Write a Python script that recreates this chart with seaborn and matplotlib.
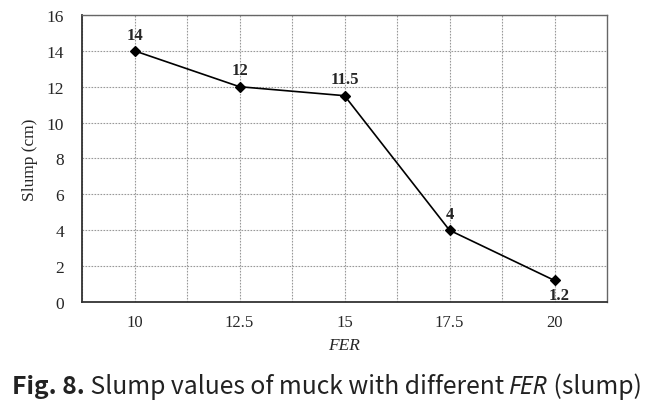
import matplotlib
matplotlib.use('Agg')
import matplotlib.pyplot as plt
import numpy as np
import pandas as pd
import seaborn as sns

fer = ['10', '12.5', '15', '17.5', '20']
slump = [14, 12, 11.5, 4, 1.2]
point_labels = ['14', '12', '11.5', '4', '1.2']
y_ticks = [0, 2, 4, 6, 8, 10, 12, 14, 16]

sns.set_theme(style='white')
plt.rcParams['font.family'] = ['Liberation Serif', 'DejaVu Serif']

df = pd.DataFrame({'FER': fer, 'Slump': slump})

fig = plt.figure(figsize=(6.53, 4.06), dpi=100)
ax = fig.add_axes([0.1256, 0.2537, 0.804, 0.707])

sns.pointplot(data=df, x='FER', y='Slump', color='black', markers='D',
              linewidth=1.2, markersize=5.5, ax=ax)

ax.set_xlim(-0.5, len(fer) - 0.5)
ax.set_ylim(0, 16)
ax.set_yticks(y_ticks)
ax.set_yticklabels([str(t) for t in y_ticks], fontsize=12.5)
ax.set_xticks(range(len(fer)))
ax.set_xticklabels(fer, fontsize=12)
ax.set_xticks(np.arange(len(fer)) - 0.5, minor=True)
ax.tick_params(axis='y', length=0, pad=13)
ax.tick_params(axis='x', length=0, pad=9)

grid_kw = dict(color='#999999', linestyle=(0, (1.5, 1.2)), linewidth=0.8)
ax.grid(True, which='major', axis='both', **grid_kw)
ax.grid(True, which='minor', axis='x', **grid_kw)
ax.set_axisbelow(True)

for side in ['top', 'right']:
    ax.spines[side].set_color('#666666')
    ax.spines[side].set_linewidth(1.0)
for side in ['left', 'bottom']:
    ax.spines[side].set_color('#333333')
    ax.spines[side].set_linewidth(1.3)

ax.set_ylabel('Slump (cm)', fontsize=12.5, labelpad=6)
ax.set_xlabel('FER', fontsize=12.5, fontstyle='italic', labelpad=5)

for i, (v, lab) in enumerate(zip(slump, point_labels)):
    if i == len(slump) - 1:
        ax.annotate(lab, (i, v), xytext=(3, -5), textcoords='offset points',
                    ha='center', va='top', fontsize=12, fontweight='bold')
    else:
        ax.annotate(lab, (i, v), xytext=(0, 6), textcoords='offset points',
                    ha='center', va='bottom', fontsize=12, fontweight='bold')

# caption, drawn piece by piece
cap_parts = [('Fig. 8.', 'bold', 'normal'),
             (' Slump values of muck with different ', 'normal', 'normal'),
             ('FER', 'normal', 'italic'),
             (' (slump)', 'normal', 'normal')]
fig.canvas.draw()
renderer = fig.canvas.get_renderer()
x = 12
for txt, weight, style in cap_parts:
    fam = ['Noto Sans', 'DejaVu Sans'] if style == 'italic' else ['Noto Sans CJK KR', 'DejaVu Sans']
    t = fig.text(x / 653, 1 - 394 / 406, txt, fontsize=17.8, fontweight=weight,
                 fontstyle=style, family=fam,
                 color='#222222', ha='left', va='baseline')
    bb = t.get_window_extent(renderer)
    x = bb.x1

fig.savefig('out.png', dpi=100)
